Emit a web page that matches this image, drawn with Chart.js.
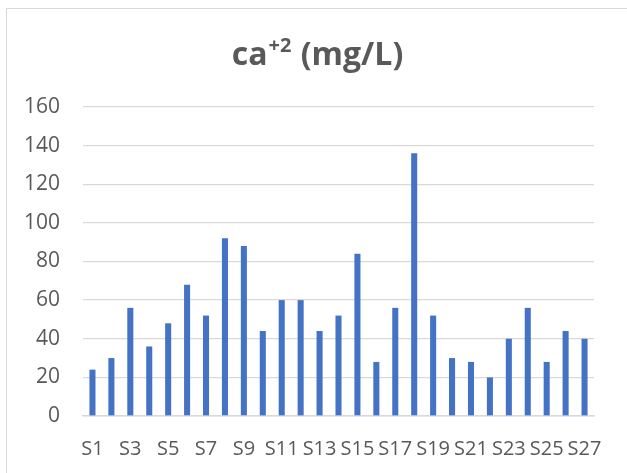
<!DOCTYPE html>
<html>
<head>
<meta charset="utf-8">
<script src="https://cdn.jsdelivr.net/npm/chart.js@4/dist/chart.umd.min.js"></script>
<style>
  html, body { margin: 0; padding: 0; background: #fff; overflow: hidden; }
  #frame { position: absolute; left: 6px; top: 8px; width: 700px; height: 600px; border: 1px solid #d9d9d9; }
  #wrap { position: absolute; left: 0; top: 0; width: 627px; height: 473px; }
</style>
</head>
<body>
<div id="frame"></div>
<div id="wrap"><canvas id="caChart"></canvas></div>
<script>
// Ca+2 concentration per sample
const samples = ['S1', 'S2', 'S3', 'S4', 'S5', 'S6', 'S7', 'S8', 'S9', 'S10', 'S11', 'S12', 'S13', 'S14',
                 'S15', 'S16', 'S17', 'S18', 'S19', 'S20', 'S21', 'S22', 'S23', 'S24', 'S25', 'S26', 'S27'];
const caValues = [24, 30, 56, 36, 48, 68, 52, 92, 88, 44, 60, 60, 44, 52,
                  84, 28, 56, 136, 52, 30, 28, 20, 40, 56, 28, 44, 40];
const yTicks = [0, 20, 40, 60, 80, 100, 120, 140, 160];

// title pieces: base, superscript, rest
const titleBase = 'ca';
const titleSup = '+2';
const titleRest = ' (mg/L)';

const textColor = '#595959';
const fontFamily = '"Open Sans", sans-serif';

// draws the title with a raised "+2"
const titlePlugin = {
    id: 'supTitle',
    afterDraw(chart) {
        const ctx = chart.ctx;
        const big = 'bold 32px ' + fontFamily;
        const small = 'bold 20px ' + fontFamily;
        ctx.save();
        ctx.fillStyle = textColor;
        ctx.textBaseline = 'alphabetic';
        ctx.textAlign = 'left';
        ctx.font = big;
        const w1 = ctx.measureText(titleBase).width;
        const w3 = ctx.measureText(titleRest).width;
        ctx.font = small;
        const w2 = ctx.measureText(titleSup).width + 1;
        let x = 317 - (w1 + w2 + w3) / 2;
        const baseY = 65;
        ctx.font = big;
        ctx.fillText(titleBase, x, baseY);
        x += w1 + 1;
        ctx.font = small;
        ctx.fillText(titleSup, x, baseY - 13);
        x += w2;
        ctx.font = big;
        ctx.fillText(titleRest, x, baseY);
        ctx.restore();
    }
};

new Chart(document.getElementById('caChart').getContext('2d'), {
    type: 'bar',
    data: {
        labels: samples,
        datasets: [{
            label: 'ca+2 (mg/L)',
            data: caValues,
            backgroundColor: '#4472C4',
            borderWidth: 0,
            barPercentage: 0.32,
            categoryPercentage: 1.0
        }]
    },
    options: {
        responsive: true,
        maintainAspectRatio: false,
        animation: false,
        layout: {
            padding: { top: 107, right: 33, bottom: 0, left: 0 }
        },
        plugins: {
            legend: { display: false },
            title: { display: false },
            tooltip: { enabled: false }
        },
        scales: {
            x: {
                afterFit: function(axis) { axis.height = 57; },
                grid: { display: false, drawTicks: false },
                border: { display: true, color: '#d9d9d9', width: 1.5 },
                ticks: {
                    autoSkip: false,
                    maxRotation: 0,
                    padding: 21,
                    color: textColor,
                    font: { family: fontFamily, size: 20 },
                    callback: function(value, index) {
                        return index % 2 === 0 ? samples[index] : '';
                    }
                }
            },
            y: {
                min: yTicks[0],
                max: yTicks[yTicks.length - 1],
                afterBuildTicks: function(axis) {
                    axis.ticks = yTicks.map(v => ({ value: v }));
                },
                afterFit: function(axis) { axis.width = 83; },
                grid: { color: '#d9d9d9', lineWidth: 1.3, drawTicks: false },
                border: { display: false },
                ticks: {
                    padding: 23,
                    color: textColor,
                    font: { family: fontFamily, size: 21 }
                }
            }
        }
    },
    plugins: [titlePlugin]
});
</script>
</body>
</html>
